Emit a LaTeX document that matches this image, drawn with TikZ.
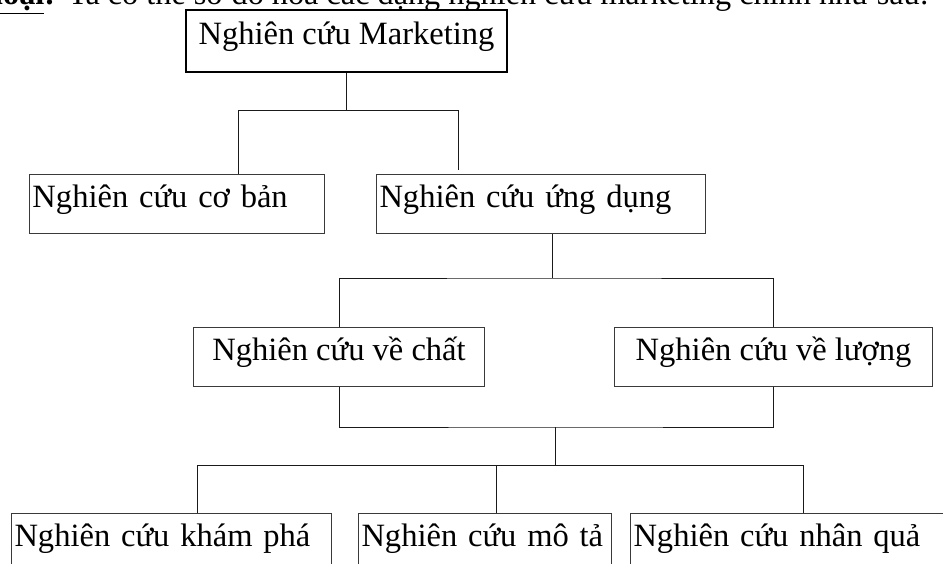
\documentclass[tikz,border=0pt]{standalone}
\usepackage{fontspec}
\setmainfont{Liberation Serif}
\usepackage{tikz}
\usetikzlibrary{positioning,calc}
\definecolor{OrgLine}{HTML}{1A1A1A}
\definecolor{OrgFrame}{HTML}{3A3A3A}
\newcommand{\NC}{Nghiên cứu}

\begin{document}
\begin{tikzpicture}[
  x=0.75pt,y=-0.75pt,
  unit/.style={draw=OrgFrame,line width=0.75pt,anchor=north west,inner xsep=2.25pt,inner ysep=0pt,
    font=\fontsize{24.4}{29}\selectfont,text height=0.7em,text depth=0.25em,minimum height=44.25pt},
  leftunit/.style={unit,text width=#1,align=left},
  midunit/.style={unit,minimum width=#1,align=center},
  link/.style={OrgLine,line width=0.75pt},
]
\useasboundingbox (0,0) rectangle (943,564);
\clip (0,0) rectangle (943,564);
\node[anchor=base east,inner sep=0pt,font=\fontsize{24.2}{29}\selectfont] (intro) at (929,5)
  {\textbf{\underline{loại}:}\hspace{0.4em}Ta có thể sơ đồ hoá các dạng nghiên cứu marketing chính như sau:};
\node[midunit=240.75pt,draw=black,line width=1.5pt,minimum height=46.5pt] (mkt) at (185,9) {\NC{} Marketing};
\node[leftunit=216.75pt] (coban) at (29,174) {\NC{} cơ bản};
\node[leftunit=242.25pt] (ungdung) at (376,174) {\NC{} ứng dụng};
\node[midunit=218.25pt] (chat) at (193,327) {\NC{} về chất};
\node[midunit=238.5pt] (luong) at (614,327) {\NC{} về lượng};
\node[leftunit=235.5pt] (khampha) at (11,513) {\NC{} khám phá};
\node[leftunit=185.25pt] (mota) at (358,513) {\NC{} mô tả};
\node[leftunit=235.5pt] (nhanqua) at (630,513) {\NC{} nhân quả};
\coordinate (t1l) at (238,110);
\coordinate (t1r) at (458,110);
\coordinate (t2) at (552,278);
\coordinate (t3) at (555,427);
\coordinate (t4) at (555,465);
\coordinate (t4l) at (197,465);
\coordinate (t4m) at (496,465);
\coordinate (t4r) at (803,465);
\draw[link] (mkt.south) -- (mkt.south |- t1l);
\draw[link,shorten >=3pt] (coban.north -| t1l) |- (t1r) -- (ungdung.north -| t1r);
\draw[link] (ungdung.south -| t2) -- (t2);
\draw[link] (chat.north) |- (t2) -| (luong.north);
\draw[link] (chat.south) |- (t3) -| (luong.south);
\draw[link] (t3) -- (t4);
\draw[link] (khampha.north -| t4l) |- (t4r) -- (nhanqua.north -| t4r);
\draw[link] (t4m) -- (mota.north -| t4m);
\end{tikzpicture}
\end{document}
